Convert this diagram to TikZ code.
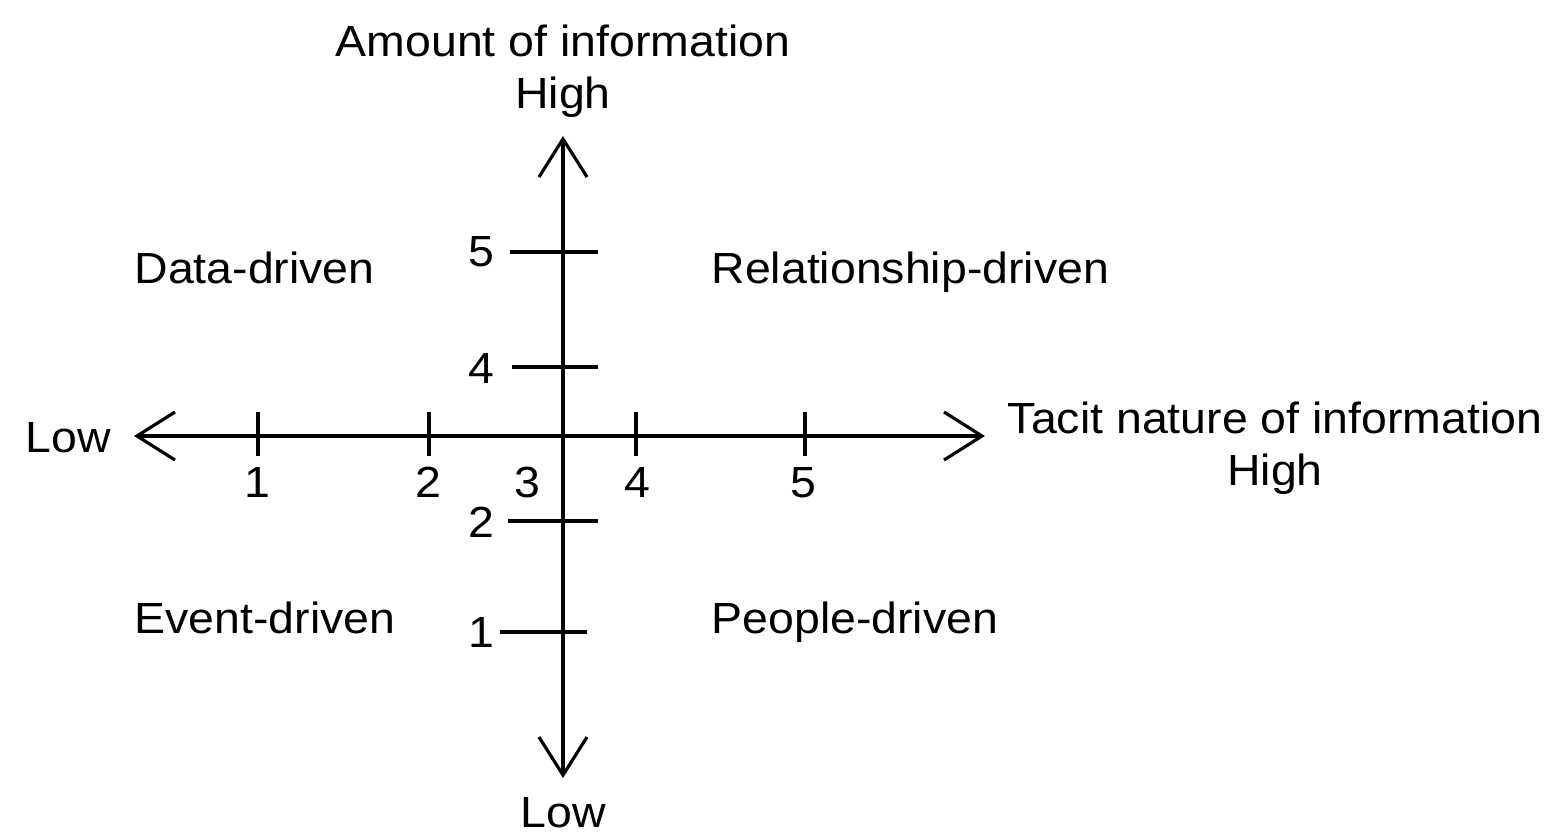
\documentclass[tikz,border=0pt]{standalone}
\usepackage{fontspec}
\setmainfont{Liberation Sans}[FakeStretch=1.065]
\usetikzlibrary{arrows.meta}

\begin{document}
\begin{tikzpicture}[x=0.01cm,y=-0.01cm,>={Straight Barb[length=0.38cm,width=0.48cm]},line width=0.9pt]
	\tikzstyle{txt}=[font=\fontsize{12.4}{14}\selectfont,inner sep=0pt]
	\useasboundingbox (0,0) rectangle (1552,833);
	% axes
	\coordinate (top) at (563,136);
	\coordinate (bottom) at (563,778);
	\coordinate (left) at (134,436);
	\coordinate (right) at (985,436);
	\draw[<->] (bottom) -- (top);
	\draw[<->] (left) -- (right);
	% ticks
	\foreach \x in {258,429,636,805}
		\draw (\x,412) -- (\x,456);
	\draw (510,252) -- (598,252);
	\draw (512,367) -- (598,367);
	\draw (508,521) -- (598,521);
	\draw (500,632) -- (587,632);
	% tick labels
	\node[txt,anchor=base] (x1) at (257,497) {1};
	\node[txt,anchor=base] (x2) at (428,497) {2};
	\node[txt,anchor=base] (x3) at (527,497) {3};
	\node[txt,anchor=base] (x4) at (637,497) {4};
	\node[txt,anchor=base] (x5) at (803,497) {5};
	\node[txt,anchor=base] (y5) at (481,266) {5};
	\node[txt,anchor=base] (y4) at (481,383) {4};
	\node[txt,anchor=base] (y2) at (481,537) {2};
	\node[txt,anchor=base] (y1) at (481,647) {1};
	% axis titles
	\node[txt,anchor=base] (amount) at (563,56) {Amount of information};
	\node[txt,anchor=base] (hightop) at (563,108) {High};
	\node[txt,anchor=base] (lowbottom) at (563,827) {Low};
	\node[txt,anchor=base] (lowleft) at (68,452) {Low};
	\node[txt,anchor=base] (tacit) at (1275,433) {Tacit nature of information};
	\node[txt,anchor=base] (highright) at (1275,485) {High};
	% quadrants
	\node[txt,anchor=base west] (data) at (133,283) {Data-driven};
	\node[txt,anchor=base west] (relation) at (710,283) {Relationship-driven};
	\node[txt,anchor=base west] (event) at (133,633) {Event-driven};
	\node[txt,anchor=base west] (people) at (710,633) {People-driven};
\end{tikzpicture}
\end{document}
